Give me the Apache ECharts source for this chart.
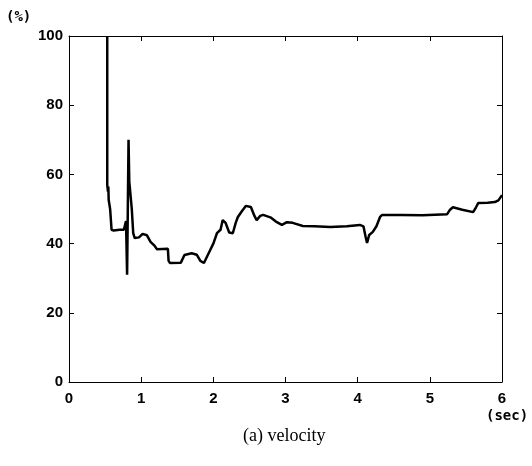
<!DOCTYPE html>
<html>
<head>
<meta charset="utf-8">
<script src="https://cdn.jsdelivr.net/npm/echarts@6/dist/echarts.min.js"></script>
<style>
  html, body { margin: 0; padding: 0; background: #fff; }
  #chart { width: 532px; height: 466px; }
</style>
</head>
<body>
<div id="chart"></div>
<script>
// time (sec) and velocity (%)
const timeSec = [
  0.53, 0.53, 0.54, 0.545, 0.55, 0.57, 0.59, 0.62, 0.70, 0.76,
  0.79, 0.80, 0.805, 0.815, 0.825, 0.835, 0.85, 0.87, 0.89, 0.91,
  0.97, 1.02, 1.08, 1.13, 1.18, 1.22, 1.37, 1.38, 1.40, 1.55,
  1.60, 1.70, 1.77, 1.82, 1.87, 1.93, 2.00, 2.05, 2.10, 2.13,
  2.17, 2.22, 2.27, 2.31, 2.34, 2.40, 2.45, 2.52, 2.57, 2.60,
  2.65, 2.69, 2.80, 2.88, 2.95, 3.02, 3.10, 3.24, 3.40, 3.62,
  3.85, 4.03, 4.08, 4.11, 4.13, 4.16, 4.21, 4.26, 4.31, 4.34,
  4.60, 4.90, 5.24, 5.28, 5.32, 5.45, 5.60, 5.64, 5.67, 5.80,
  5.90, 5.95, 6.00
]
const velocityPct = [
  100, 57, 55, 56.5, 52.6, 50, 44, 43.8, 44, 44,
  46.5, 47, 31, 50, 70, 58, 54.6, 50, 43, 41.6,
  41.8, 42.8, 42.4, 40.5, 39.5, 38.4, 38.5, 35, 34.4, 34.5,
  36.7, 37.2, 36.8, 35, 34.4, 37, 40, 43, 44, 46.8,
  46, 43.2, 43, 46, 47.7, 49.5, 50.9, 50.6, 48, 46.8,
  48, 48.3, 47.5, 46.2, 45.4, 46.2, 46, 45.1, 45, 44.8,
  45, 45.4, 45, 42, 40.2, 42.5, 43.4, 45, 47.7, 48.3,
  48.3, 48.2, 48.5, 49.8, 50.5, 49.8, 49.1, 50.5, 51.7, 51.8,
  52, 52.5, 54
]
const xTicks = [0, 1, 2, 3, 4, 5, 6]
const yTicks = [0, 20, 40, 60, 80, 100]

const points = timeSec.map((t, i) => [t, velocityPct[i]])

const axisLine = { show: true, onZero: false, lineStyle: { color: '#000', width: 1 } }
const axisTick = { inside: true, length: 5, lineStyle: { color: '#000' } }
const tickFont = {
  color: '#000',
  fontFamily: 'Liberation Sans, Arial, sans-serif',
  fontSize: 15,
  fontWeight: 'bold'
}

const option = {
  backgroundColor: '#fff',
  animation: false,
  grid: { left: 69, right: 30, top: 36, bottom: 84 },
  xAxis: [
    {
      type: 'value',
      min: xTicks[0],
      max: xTicks[xTicks.length - 1],
      interval: 1,
      axisLine: axisLine,
      axisTick: axisTick,
      axisLabel: Object.assign({ margin: 9 }, tickFont),
      splitLine: { show: false }
    },
    {
      type: 'value',
      position: 'top',
      min: xTicks[0],
      max: xTicks[xTicks.length - 1],
      interval: 1,
      axisLine: axisLine,
      axisTick: axisTick,
      axisLabel: { show: false },
      splitLine: { show: false }
    }
  ],
  yAxis: [
    {
      type: 'value',
      min: yTicks[0],
      max: yTicks[yTicks.length - 1],
      interval: 20,
      axisLine: axisLine,
      axisTick: axisTick,
      axisLabel: Object.assign({ margin: 6 }, tickFont),
      splitLine: { show: false }
    },
    {
      type: 'value',
      position: 'right',
      min: yTicks[0],
      max: yTicks[yTicks.length - 1],
      interval: 20,
      axisLine: axisLine,
      axisTick: axisTick,
      axisLabel: { show: false },
      splitLine: { show: false }
    }
  ],
  graphic: [
    {
      type: 'text', left: 6, top: 10,
      style: { text: '(%)', fill: '#000', font: 'bold 14px "DejaVu Sans Mono", monospace' }
    },
    {
      type: 'text', left: 486, top: 409,
      style: { text: '(sec)', fill: '#000', font: 'bold 14px "DejaVu Sans Mono", monospace' }
    },
    {
      type: 'text', left: 243, top: 427,
      style: { text: '(a) velocity', fill: '#000', font: '18px "Liberation Serif", "DejaVu Serif", serif' }
    }
  ],
  series: [
    {
      name: 'velocity',
      type: 'line',
      data: points,
      showSymbol: false,
      lineStyle: { color: '#000', width: 2.5 }
    }
  ]
}

const chart = echarts.init(document.getElementById('chart'), null, { renderer: 'canvas' })
chart.setOption(option)
</script>
</body>
</html>
